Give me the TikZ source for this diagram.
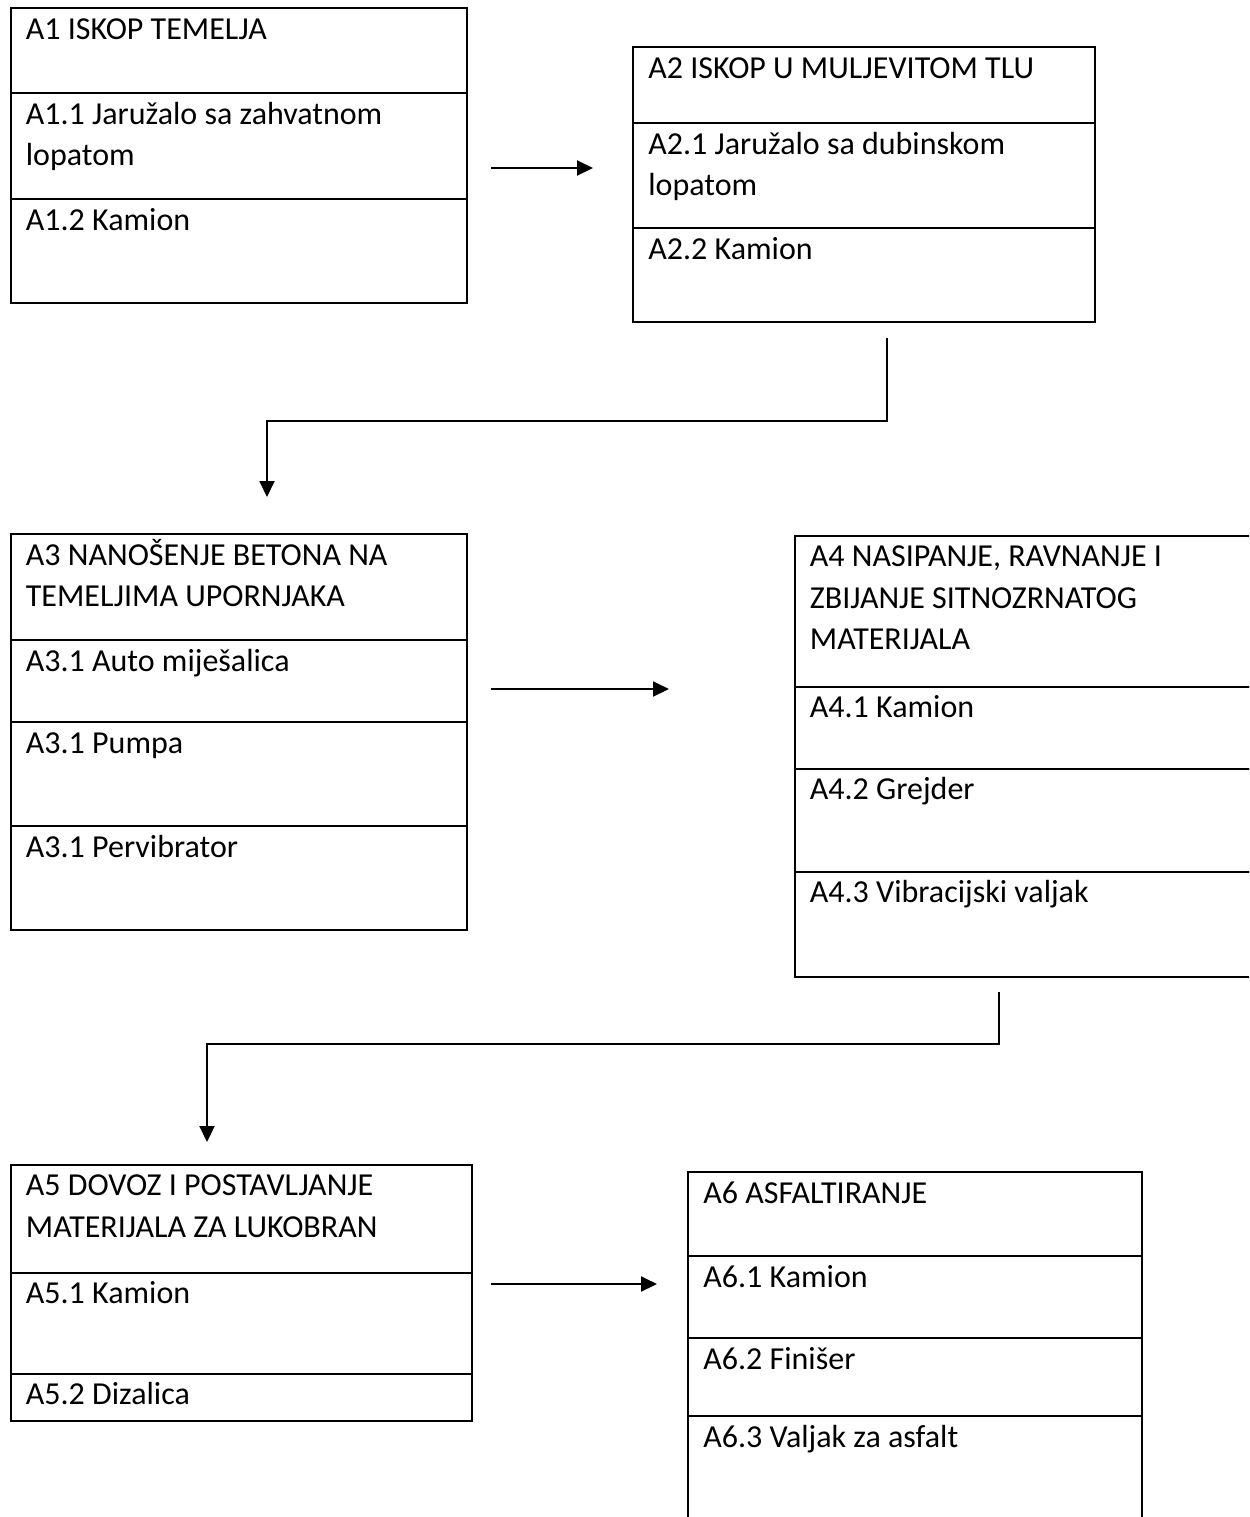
\documentclass[tikz,border=0pt]{standalone}
\usepackage{fontspec}
\setmainfont{Carlito}
\usepackage{tikz}
\usetikzlibrary{arrows.meta,positioning}
\newcommand{\cellfont}{\fontsize{16}{20.75}\selectfont}

\tikzset{
  cell/.style={draw, line width=1pt, inner sep=0pt, outer sep=0pt},
  celltext/.style={anchor=north west, inner sep=0pt, align=left,
    font=\cellfont, xshift=7.5pt, yshift=-1pt},
  flow/.style={line width=1pt, -{Triangle[length=8pt,width=7.5pt]}},
}

\begin{document}
\begin{tikzpicture}[x=0.5pt,y=-0.5pt]
   \path[use as bounding box, clip] (0,0) rectangle (1249,1517);

   % A1
   \node[cell, anchor=north west, minimum width=228pt, minimum height=42.5pt,
     label={[celltext]north west:{\strut A1 ISKOP TEMELJA}}] (a1) at (10.5,8) {};
   \node[cell, minimum width=228pt, minimum height=53pt, below=0pt of a1,
     label={[celltext]north west:{\strut A1.1 Jaružalo sa zahvatnom\\lopatom}}] (a11) {};
   \node[cell, minimum width=228pt, minimum height=52pt, below=0pt of a11,
     label={[celltext]north west:{\strut A1.2 Kamion}}] (a12) {};

   % A2
   \node[cell, anchor=north west, minimum width=231pt, minimum height=38pt,
     label={[celltext]north west:{\strut A2 ISKOP U MULJEVITOM TLU}}] (a2) at (633,47) {};
   \node[cell, minimum width=231pt, minimum height=52.5pt, below=0pt of a2,
     label={[celltext]north west:{\strut A2.1 Jaružalo sa dubinskom\\lopatom}}] (a21) {};
   \node[cell, minimum width=231pt, minimum height=47pt, below=0pt of a21,
     label={[celltext]north west:{\strut A2.2 Kamion}}] (a22) {};

   % A3
   \node[cell, anchor=north west, minimum width=228pt, minimum height=53pt,
     label={[celltext]north west:{\strut A3 NANOŠENJE BETONA NA\\TEMELJIMA UPORNJAKA}}] (a3) at (10.5,534) {};
   \node[cell, minimum width=228pt, minimum height=41pt, below=0pt of a3,
     label={[celltext]north west:{\strut A3.1 Auto miješalica}}] (a31) {};
   \node[cell, minimum width=228pt, minimum height=52pt, below=0pt of a31,
     label={[celltext]north west:{\strut A3.1 Pumpa}}] (a32) {};
   \node[cell, minimum width=228pt, minimum height=52pt, below=0pt of a32,
     label={[celltext]north west:{\strut A3.1 Pervibrator}}] (a33) {};

   % A4
   \node[cell, anchor=north west, minimum width=229pt, minimum height=75.5pt,
     label={[celltext]north west:{\strut A4 NASIPANJE, RAVNANJE I\\ZBIJANJE SITNOZRNATOG\\MATERIJALA}}] (a4) at (794.5,535.5) {};
   \node[cell, minimum width=229pt, minimum height=41pt, below=0pt of a4,
     label={[celltext]north west:{\strut A4.1 Kamion}}] (a41) {};
   \node[cell, minimum width=229pt, minimum height=51.5pt, below=0pt of a41,
     label={[celltext]north west:{\strut A4.2 Grejder}}] (a42) {};
   \node[cell, minimum width=229pt, minimum height=52.5pt, below=0pt of a42,
     label={[celltext]north west:{\strut A4.3 Vibracijski valjak}}] (a43) {};

   % A5
   \node[cell, anchor=north west, minimum width=230.5pt, minimum height=54pt,
     label={[celltext]north west:{\strut A5 DOVOZ I POSTAVLJANJE\\MATERIJALA ZA LUKOBRAN}}] (a5) at (10.5,1164.5) {};
   \node[cell, minimum width=230.5pt, minimum height=50.5pt, below=0pt of a5,
     label={[celltext]north west:{\strut A5.1 Kamion}}] (a51) {};
   \node[cell, minimum width=230.5pt, minimum height=23.5pt, below=0pt of a51,
     label={[celltext]north west:{\strut A5.2 Dizalica}}] (a52) {};

   % A6
   \node[cell, anchor=north west, minimum width=227pt, minimum height=42pt,
     label={[celltext]north west:{\strut A6 ASFALTIRANJE}}] (a6) at (688,1172) {};
   \node[cell, minimum width=227pt, minimum height=41pt, below=0pt of a6,
     label={[celltext]north west:{\strut A6.1 Kamion}}] (a61) {};
   \node[cell, minimum width=227pt, minimum height=39pt, below=0pt of a61,
     label={[celltext]north west:{\strut A6.2 Finišer}}] (a62) {};
   \node[cell, minimum width=227pt, minimum height=55pt, below=0pt of a62,
     label={[celltext]north west:{\strut A6.3 Valjak za asfalt}}] (a63) {};

   % arrows
   \coordinate (s12) at (491,168);   \coordinate (e12) at (593,168);
   \coordinate (s23) at (887,338);   \coordinate (e23) at (267,497);
   \coordinate (s34) at (491,689);   \coordinate (e34) at (669,689);
   \coordinate (s45) at (998.5,992); \coordinate (e45) at (207,1142);
   \coordinate (s56) at (491,1284);  \coordinate (e56) at (657,1284);

   \draw[flow] (s12) -- (e12);
   \draw[flow] (s23) -- (887,421) -- (267,421) -- (e23);
   \draw[flow] (s34) -- (e34);
   \draw[flow] (s45) -- (998.5,1044) -- (207,1044) -- (e45);
   \draw[flow] (s56) -- (e56);
\end{tikzpicture}
\end{document}
